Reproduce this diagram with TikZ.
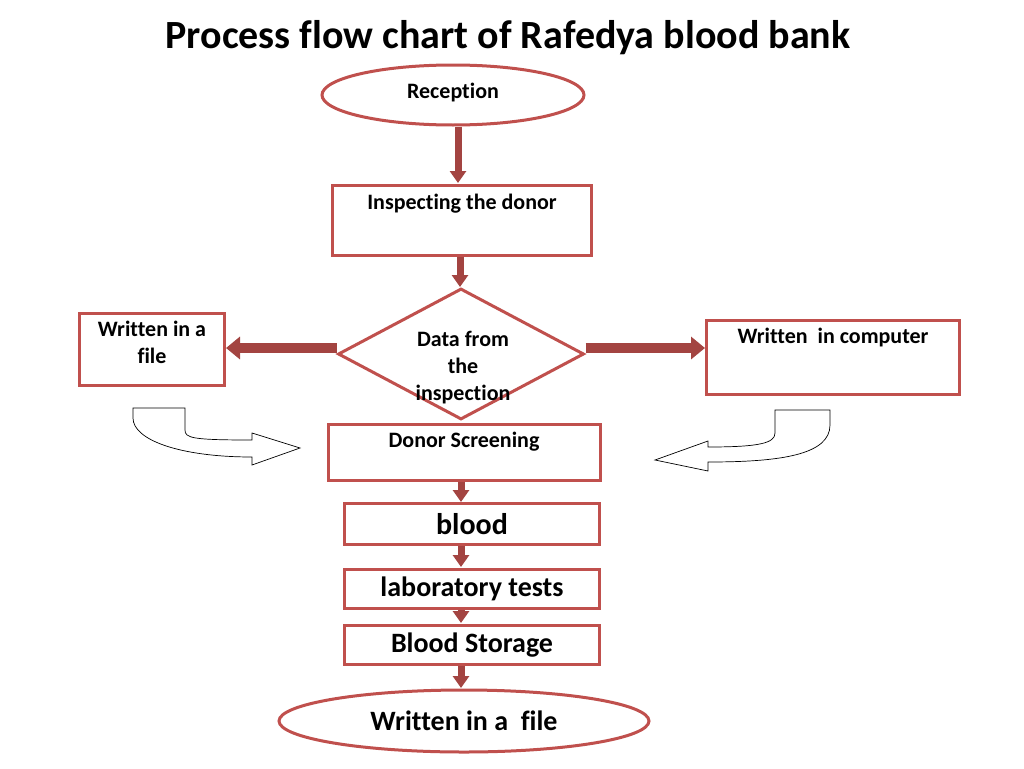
\documentclass[tikz,border=0pt]{standalone}
\usepackage{fontspec}
\setmainfont{Carlito}[Ligatures={NoCommon}]
\usetikzlibrary{shapes.geometric,arrows.meta,positioning}
\definecolor{boxred}{RGB}{192,80,77}
\tikzset{
    box/.style = {draw=boxred, line width=3pt, rectangle, fill=white},
    oval/.style = {draw=boxred, line width=3pt, ellipse, fill=white},
    flow/.style = {draw=boxred!85!black, line width=7pt, -{Triangle[length=12pt,width=16pt]}},
    side/.style = {draw=boxred!85!black, line width=10pt, -{Triangle[length=14pt,width=22pt]}},
    hollow/.style = {draw=black, line width=0.7pt, fill=white},
    txt/.style = {font=\bfseries\fontsize{22}{27}\selectfont, align=center},
    big/.style = {font=\bfseries\fontsize{28}{30}\selectfont}
}
\begin{document}
\begin{tikzpicture}[x=1pt,y=-1pt]
    \useasboundingbox (0,0) rectangle (1024,768);
    \node [font=\bfseries\fontsize{40}{44}\selectfont] (title) at (508,38) {Process flow chart of Rafedya blood bank};
    % boxes
    \node [oval, minimum width=262pt, minimum height=60pt] (recep) at (453,95) {};
    \node [txt, anchor=north] at (453,80) {Reception};
    \node [box, minimum width=259pt, minimum height=70pt] (inspect) at (462,220) {};
    \node [txt, anchor=north] at (462,191) {Inspecting the donor};
    \node [draw=boxred, line width=3pt, diamond, fill=white, minimum width=246pt, minimum height=131pt, inner sep=0pt] (data) at (461,354) {};
    \node [txt] at (463,368) {Data from\\the\\inspection};
    \node [box, minimum width=145pt, minimum height=72pt] (file) at (152,349) {};
    \node [txt, anchor=north] at (152,318) {Written in a\\file};
    \node [box, minimum width=253pt, minimum height=74pt] (comp) at (833,357) {};
    \node [txt, anchor=north] at (833,325) {Written\ \ in computer};
    \node [box, minimum width=272pt, minimum height=56pt] (screen) at (464,452) {};
    \node [txt, anchor=north] at (464,429) {Donor Screening};
    \node [box, minimum width=255pt, minimum height=41pt, font=\bfseries\fontsize{30}{32}\selectfont] (blood) at (472,524) {blood};
    \node [box, big, minimum width=255pt, minimum height=39pt] (lab) at (472,589) {laboratory tests};
    \node [box, big, minimum width=255pt, minimum height=39pt] (store) at (472,645) {Blood Storage};
    \node [oval, big, minimum width=370pt, minimum height=62pt] (end) at (464,721) {Written in a\ \ file};
    % connectors
    \draw [flow] (recep.south -| 458,0) -- (458,183);
    \draw [flow] (inspect.south -| 460,0) -- (460,287);
    \draw [flow] (screen.south -| 461,0) -- (461,502);
    \draw [flow] (blood.south -| 461,0) -- (461,567);
    \draw [flow] (lab.south -| 461,0) -- (461,623);
    \draw [flow] (store.south -| 461,0) -- (461,688);
    \draw [side] (data.west |- 0,348) -- (file.east |- 0,348);
    \draw [side] (data.east |- 0,348) -- (comp.west |- 0,348);
    % hollow bent arrows
    \draw [hollow] (133,408) -- (185,408) -- (185,430) .. controls (185,438) and (192,440) .. (252,440)
        -- (252,433) -- (300,448) -- (252,465) -- (252,457) .. controls (180,457) and (133,440) .. (133,418) -- cycle;
    \draw [hollow] (775,410) -- (830,410) -- (830,425) .. controls (830,455) and (780,462) .. (708,462)
        -- (708,471) -- (655,460) -- (708,441) -- (708,447) .. controls (760,447) and (775,443) .. (775,433) -- cycle;
\end{tikzpicture}
\end{document}
